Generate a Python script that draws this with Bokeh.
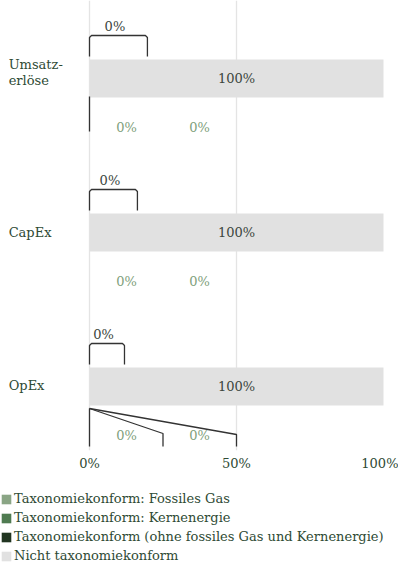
from bokeh.plotting import figure
from bokeh.layouts import column
from bokeh.models import Range1d, FixedTicker, Legend, LegendItem, ColumnDataSource
from bokeh.core.properties import value
from bokeh.embed import file_html
from bokeh.resources import INLINE

# ---------------- data ----------------
categories = ["Umsatz-\nerlöse", "CapEx", "OpEx"]
fossiles_gas = [0, 0, 0]
kernenergie = [0, 0, 0]
ohne_gas_kern = [0, 0, 0]
nicht_konform = [100, 100, 100]
series_names = [
    "Taxonomiekonform: Fossiles Gas",
    "Taxonomiekonform: Kernenergie",
    "Taxonomiekonform (ohne fossiles Gas und Kernenergie)",
    "Nicht taxonomiekonform",
]
x_ticks = [0, 50, 100]
x_tick_labels = {0: "0%", 50: "50%", 100: "100%"}

# ---------------- style / layout ----------------
colors = ["#8aa585", "#4f7b51", "#213521", "#e1e1e1"]
FONT = "DejaVu Serif"
FS = "13px"
TXT = "#2e4a34"
LBL = "#3b463d"
GREEN_LBL = "#7f9f7c"
LINE = "#333333"
PX = 154.0            # pixels per category step
XS = 2.94             # pixels per percent
FRAME_W, FRAME_H = 398, 450
X0 = 89               # pixel of 0 %
Y0 = 78               # pixel of first category centre
BAR_H = 38.0 / PX
bracket_end = [19.7, 16.3, 11.9]   # bracket extent (annotation layout, %)
below_label_x = [12.6, 37.4]       # positions of value labels under the bars

idx = list(range(len(categories)))

def yy(i, dpx):
    return i + dpx / PX

p = figure(frame_width=FRAME_W, frame_height=FRAME_H,
           x_range=Range1d(-X0 / XS, (FRAME_W - X0) / XS),
           y_range=Range1d(start=(FRAME_H - Y0) / PX, end=-Y0 / PX),
           output_backend="svg", toolbar_location=None, min_border=0)
p.outline_line_color = None

src = ColumnDataSource(dict(y=idx, fg=fossiles_gas, ke=kernenergie,
                            oh=ohne_gas_kern, nk=nicht_konform))
rs = p.hbar_stack(["fg", "ke", "oh", "nk"], y="y", height=BAR_H, source=src,
                  fill_color=colors, line_color=None)

# labels inside the main bar
starts = [a + b + c for a, b, c in zip(fossiles_gas, kernenergie, ohne_gas_kern)]
p.text(x=[s + n / 2 for s, n in zip(starts, nicht_konform)], y=idx,
       text=[f"{n}%" for n in nicht_konform], text_align="center", text_baseline="middle",
       text_font=value(FONT), text_font_size=FS, text_color=LBL)

# brackets above bars with value of taxonomy-conform (ohne Gas/Kern)
TOP, BOT, LAB = -43, -22, -52
cx, cy = 2.0 / XS, 2.0 / PX
xs, ys = [], []
for i, e in zip(idx, bracket_end):
    s = starts[i] - ohne_gas_kern[i]
    xs.append([s, s, s + cx, e - cx, e, e])
    ys.append([yy(i, BOT), yy(i, TOP) + cy, yy(i, TOP), yy(i, TOP), yy(i, TOP) + cy, yy(i, BOT)])
p.multi_line(xs=xs, ys=ys, line_color=LINE, line_width=1.3)
p.text(x=[e / 2 - 1.2 for e in bracket_end], y=[yy(i, LAB) for i in idx],
       text=[f"{v}%" for v in ohne_gas_kern], text_align="center", text_baseline="middle",
       text_font=value(FONT), text_font_size=FS, text_color=LBL)

# value labels below bars (fossiles Gas, Kernenergie)
for vals, lx in zip([fossiles_gas, kernenergie], below_label_x):
    p.text(x=[lx] * len(idx), y=[yy(i, 49) for i in idx],
           text=[f"{v}%" for v in vals], text_align="center", text_baseline="middle",
           text_font=value(FONT), text_font_size=FS, text_color=GREEN_LBL)

# leader lines
p.line(x=[0, 0], y=[yy(0, 18), yy(0, 53)], line_color=LINE, line_width=1.3)
p.multi_line(xs=[[0, 0], [0, 25, 25], [0, 50, 50]],
             ys=[[yy(2, 22), yy(2, 60)], [yy(2, 22), yy(2, 47), yy(2, 60)],
                 [yy(2, 22), yy(2, 48), yy(2, 60)]],
             line_color=LINE, line_width=1.3)

# category labels
p.text(x=[-27.5] * len(idx), y=[yy(0, -6), yy(1, 0), yy(2, -1)], text=categories,
       text_align="left", text_baseline="middle", text_line_height=1.1,
       text_font=value(FONT), text_font_size=FS, text_color=TXT)

# axes / grid
p.yaxis.visible = False
p.ygrid.visible = False
p.xgrid.ticker = FixedTicker(ticks=[0, 50])
p.xgrid.grid_line_color = "#e4e4e4"
p.xgrid.grid_line_width = 1.3
ax = p.xaxis[0]
ax.ticker = FixedTicker(ticks=x_ticks)
ax.major_label_overrides = x_tick_labels
ax.axis_line_color = None
ax.major_tick_line_color = None
ax.minor_tick_line_color = None
ax.major_tick_out = 0
ax.major_tick_in = 0
ax.major_label_standoff = 5
ax.major_label_text_font = FONT
ax.major_label_text_font_size = FS
ax.major_label_text_color = TXT

# ---------------- legend figure ----------------
lg = figure(width=398, height=92, x_range=Range1d(0, 1), y_range=Range1d(0, 1),
            output_backend="svg", toolbar_location=None, min_border=0,
            min_border_top=17)
lg.outline_line_color = None
lg.axis.visible = False
lg.grid.visible = False
dummy = ColumnDataSource(dict(y=[-5], l=[0], r=[0]))
lrs = [lg.hbar(y="y", left="l", right="r", height=0.1, source=dummy,
               fill_color=c, line_color=None) for c in colors]
legend = Legend(items=[LegendItem(label=n, renderers=[r]) for n, r in zip(series_names, lrs)],
                location="top_left", orientation="vertical", glyph_width=12, glyph_height=12,
                label_standoff=2, spacing=2, padding=0, margin=0, label_height=17,
                border_line_color=None, background_fill_alpha=0,
                label_text_font=FONT, label_text_font_size=FS, label_text_color=TXT)
lg.add_layout(legend)

layout = column(p, lg, spacing=0)
open("out.html", "w").write(file_html(layout, INLINE))
